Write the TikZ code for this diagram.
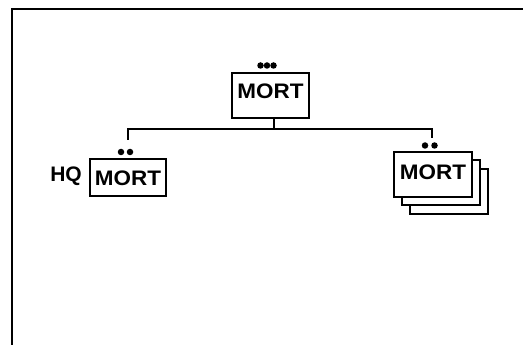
\documentclass[tikz,border=0pt]{standalone}
\usepackage{fontspec}
\setmainfont{Liberation Sans}
\begin{document}
\begin{tikzpicture}[x=1pt,y=-1pt,
  box/.style={draw=black,line width=1.8pt,fill=white,inner sep=0pt},
  lbl/.style={font=\fontsize{21}{21}\selectfont\bfseries,inner sep=0pt},
  dot/.style={circle,fill=black,inner sep=0pt,minimum size=6.5pt},
  wire/.style={line width=2.6pt},
  frame/.style={line width=2.6pt}]
\useasboundingbox (0,0) rectangle (523,345);
% frame
\coordinate (f1) at (12,345);
\coordinate (f2) at (12,9);
\coordinate (f3) at (523,9);
\draw[frame] (f1) -- (f2) -- (f3);
% top box
\node[box,minimum width=77pt,minimum height=45pt] (top) at (270.5,95.5) {};
\node[lbl] (toptxt) at (270.5,91) {\scalebox{1.07}[1]{MORT}};
\node[dot] (td1) at (260.5,65.5) {};
\node[dot] (td2) at (267,65.5) {};
\node[dot] (td3) at (273.5,65.5) {};
% left box
\node[box,minimum width=76pt,minimum height=37pt] (left) at (128,177.5) {};
\node[lbl] (lefttxt) at (128,178.5) {\scalebox{1.07}[1]{MORT}};
\node[lbl] (hq) at (66,176.5) {HQ};
\node[dot] (ld1) at (121,152) {};
\node[dot] (ld2) at (130,152) {};
% right stack
\node[box,minimum width=78pt,minimum height=45pt] (r3) at (449,191.5) {};
\node[box,minimum width=78pt,minimum height=45pt] (r2) at (441,182.5) {};
\node[box,minimum width=78pt,minimum height=45pt] (r1) at (433,174.5) {};
\node[lbl] (righttxt) at (433,172) {\scalebox{1.07}[1]{MORT}};
\node[dot] (rd1) at (425,145.5) {};
\node[dot] (rd2) at (434.5,145.5) {};
% connectors
\coordinate (bus) at (274,129);
\coordinate (lj) at (128,140);
\coordinate (rj) at (432,138);
\draw[wire] ([xshift=3.5pt]top.south) -- (bus);
\draw[wire] (lj) |- (bus) -| (rj);
\end{tikzpicture}
\end{document}
